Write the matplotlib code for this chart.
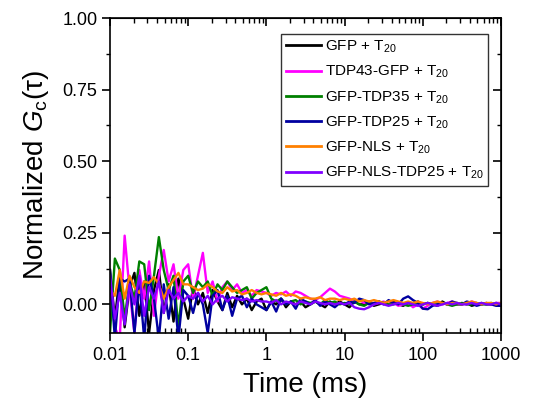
import numpy as np
import matplotlib
matplotlib.use("Agg")
import matplotlib.pyplot as plt
from matplotlib.ticker import LogLocator, NullFormatter, MultipleLocator

plt.rcParams['font.family'] = ['Liberation Sans', 'DejaVu Sans']
plt.rcParams['mathtext.fontset'] = 'custom'
plt.rcParams['mathtext.rm'] = 'Liberation Sans'
plt.rcParams['mathtext.it'] = 'Liberation Sans:italic'

# lag times (ms), 16 points per decade from 0.01 to 1000
tau = np.logspace(-2, 3, 81)

labels = [
    r"GFP + T$_{20}$",
    r"TDP43-GFP + T$_{20}$",
    r"GFP-TDP35 + T$_{20}$",
    r"GFP-TDP25 + T$_{20}$",
    r"GFP-NLS + T$_{20}$",
    r"GFP-NLS-TDP25 + T$_{20}$",
]
colors = ["#000000", "#ff00ff", "#008000", "#0000a0", "#ff8000", "#8000ff"]

gfp = [
    0.12, -0.05, 0.10, -0.08, 0.06, 0.11, -0.04, 0.08, -0.10, 0.05, 0.12, -0.03, 0.07, -0.06, 0.09, 0.02,
    -0.05, 0.06, 0.00, 0.04, -0.03, 0.05, 0.01, -0.02, 0.04, -0.01, 0.03, 0.00, 0.02, -0.02, 0.01, 0.02,
    -0.02, 0.01, 0.00, 0.02, -0.01, 0.01, 0.00, 0.01, -0.01, 0.00, 0.01, 0.00, -0.01, 0.01, 0.00, 0.01,
    0.00, -0.01, 0.01, 0.00, 0.00, 0.01, -0.005, 0.00, 0.005, 0.00, 0.01, 0.00, -0.005, 0.005, 0.00, 0.01,
    0.00, 0.005, 0.00, -0.005, 0.01, 0.00, 0.005, 0.00, 0.00, 0.005, -0.005, 0.00, 0.005, 0.00, 0.00, 0.005,
    0.00,
]
tdp43 = [
    0.05, -0.08, -0.12, 0.24, 0.05, -0.10, 0.12, 0.02, 0.15, -0.04, 0.10, 0.19, 0.08, 0.14, 0.02, 0.12,
    0.14, 0.02, 0.10, 0.18, 0.04, 0.08, 0.01, 0.06, 0.08, 0.05, 0.07, 0.04, 0.05, 0.03, 0.05, 0.045,
    0.04, 0.03, 0.04, 0.035, 0.045, 0.03, 0.045, 0.04, 0.03, 0.02, 0.015, 0.025, 0.04, 0.055, 0.045, 0.03,
    0.025, 0.02, 0.01, 0.015, 0.005, 0.01, 0.00, 0.005, 0.01, 0.00, 0.005, -0.005, 0.00, 0.005, -0.01, 0.00,
    -0.015, -0.005, 0.005, 0.01, 0.00, 0.005, 0.01, 0.00, 0.005, 0.00, 0.01, 0.005, 0.00, 0.005, 0.00, 0.005,
    0.005,
]
tdp35 = [
    -0.10, 0.16, 0.12, -0.05, 0.08, 0.02, 0.15, 0.14, -0.02, 0.10, 0.235, 0.12, 0.05, 0.10, -0.08, 0.08,
    0.10, 0.04, 0.08, 0.06, 0.08, 0.03, 0.07, 0.05, 0.08, 0.06, 0.04, 0.05, 0.06, 0.02, 0.04, 0.05,
    0.06, 0.02, 0.01, 0.02, 0.00, 0.01, 0.015, 0.00, 0.01, 0.005, 0.01, 0.00, 0.015, 0.005, 0.01, 0.00,
    0.005, 0.00, 0.01, 0.00, -0.005, 0.005, 0.00, 0.01, 0.005, 0.00, 0.00, 0.005, 0.00, -0.005, 0.00, 0.005,
    0.00, 0.005, 0.00, 0.00, 0.005, 0.00, -0.005, 0.00, 0.005, 0.00, 0.00, 0.005, 0.00, 0.00, 0.005, 0.00,
    0.00,
]
tdp25 = [
    0.12, -0.12, 0.09, 0.08, 0.09, -0.10, 0.08, -0.12, 0.10, 0.02, -0.12, 0.07, -0.05, 0.06, -0.12, 0.05,
    0.03, -0.03, 0.04, 0.00, -0.10, 0.03, 0.05, -0.02, 0.03, -0.04, 0.02, 0.03, -0.01, 0.02, 0.00, -0.01,
    -0.02, 0.01, -0.025, 0.02, 0.00, 0.01, -0.015, 0.02, 0.01, 0.00, 0.015, -0.005, 0.01, 0.00, -0.01, 0.005,
    0.00, 0.01, 0.005, 0.02, 0.015, 0.00, 0.005, 0.01, 0.00, 0.015, 0.005, 0.00, 0.02, 0.028, 0.015, 0.005,
    -0.015, -0.017, -0.005, 0.00, 0.005, 0.00, 0.01, 0.005, 0.00, 0.01, 0.005, -0.005, 0.00, 0.005, 0.00, -0.005,
    -0.005,
]
nls = [
    0.05, 0.03, 0.12, 0.02, 0.10, 0.06, 0.04, 0.08, 0.075, 0.095, 0.07, 0.02, 0.06, 0.085, 0.11, 0.07,
    0.07, 0.06, 0.05, 0.055, 0.07, 0.06, 0.045, 0.04, 0.06, 0.045, 0.05, 0.035, 0.04, 0.05, 0.04, 0.035,
    0.04, 0.035, 0.03, 0.04, 0.03, 0.035, 0.03, 0.02, 0.025, 0.02, 0.02, 0.025, 0.015, 0.02, 0.02, 0.015,
    0.02, 0.015, 0.02, 0.01, 0.015, 0.01, 0.015, 0.01, 0.005, 0.01, 0.015, 0.01, 0.005, 0.01, 0.005, 0.01,
    0.005, 0.00, 0.005, 0.01, 0.005, 0.00, 0.005, 0.005, 0.00, 0.005, 0.01, 0.005, 0.00, 0.005, 0.005, 0.00,
    0.005,
]
nls_tdp25 = [
    0.10, -0.05, 0.04, -0.07, 0.07, 0.00, 0.10, -0.04, 0.06, 0.02, 0.08, -0.03, 0.05, 0.02, 0.04, 0.01,
    0.03, 0.02, 0.04, 0.01, 0.03, 0.00, 0.02, 0.03, 0.01, 0.025, 0.02, 0.015, 0.02, 0.01, 0.015, 0.01,
    0.01, 0.005, 0.015, 0.00, 0.01, 0.005, 0.00, 0.01, 0.005, 0.00, 0.01, 0.005, 0.00, 0.005, 0.00, 0.005,
    0.00, 0.005, -0.01, -0.015, -0.017, -0.01, 0.00, 0.005, 0.00, -0.005, 0.00, 0.005, 0.00, 0.005, 0.00, -0.005,
    0.00, 0.005, 0.00, -0.005, 0.00, 0.005, 0.00, 0.005, 0.00, 0.00, 0.005, 0.00, 0.005, 0.00, 0.00, 0.005,
    0.00,
]
series = [gfp, tdp43, tdp35, tdp25, nls, nls_tdp25]

fig = plt.figure(figsize=(5.36, 4.12), dpi=100)
ax = fig.add_axes([0.2052, 0.1917, 0.7295, 0.7646])

for y, c, lab in zip(series, colors, labels):
    ax.plot(tau, y, color=c, lw=1.7, label=lab)

ax.set_xscale("log")
ax.set_xlim(0.01, 1000)
ax.set_ylim(-0.1, 1.0)
ax.set_xticks([0.01, 0.1, 1, 10, 100, 1000])
ax.set_xticklabels(["0.01", "0.1", "1", "10", "100", "1000"])
ax.xaxis.set_minor_locator(LogLocator(base=10, subs=np.arange(2, 10)))
ax.xaxis.set_minor_formatter(NullFormatter())
ax.set_yticks([0, 0.25, 0.5, 0.75, 1.0])
ax.set_yticklabels(["0.00", "0.25", "0.50", "0.75", "1.00"])
ax.yaxis.set_minor_locator(MultipleLocator(0.125))

for s in ax.spines.values():
    s.set_linewidth(1.2)
ax.tick_params(axis="x", which="major", direction="out", length=6, width=1.2, labelsize=13, pad=4)
ax.tick_params(axis="x", which="minor", direction="in", length=3.5, width=1.0)
ax.tick_params(axis="y", which="major", direction="out", length=6, width=1.2, labelsize=13, pad=3)
ax.tick_params(axis="y", which="minor", direction="out", length=3, width=1.0)

# mirrored axes with inward ticks
top = ax.secondary_xaxis("top")
top.set_xticks([0.01, 0.1, 1, 10, 100, 1000])
top.xaxis.set_minor_locator(LogLocator(base=10, subs=np.arange(2, 10)))
top.tick_params(which="major", direction="in", length=6, width=1.2, labeltop=False)
top.tick_params(which="minor", direction="in", length=3.5, width=1.0)
top.xaxis.set_minor_formatter(NullFormatter())
right = ax.secondary_yaxis("right")
right.set_yticks([0, 0.25, 0.5, 0.75, 1.0])
right.yaxis.set_minor_locator(MultipleLocator(0.125))
right.tick_params(which="major", direction="in", length=6, width=1.2, labelright=False)
right.tick_params(which="minor", direction="in", length=3, width=1.0)

ax.set_xlabel("Time (ms)", fontsize=20, labelpad=6)
ax.set_ylabel(r"Normalized $\mathit{G}_\mathrm{c}(\mathrm{\tau})$", fontsize=20, labelpad=8)

leg = ax.legend(loc="upper right", bbox_to_anchor=(0.967, 0.949), fontsize=11,
                frameon=True, fancybox=False, edgecolor="black", handlelength=2.3,
                handletextpad=0.25, labelspacing=0.58, borderpad=0.3, borderaxespad=0)
leg.get_frame().set_linewidth(1.0)
for line in leg.get_lines():
    line.set_linewidth(2)

fig.savefig("out.png", dpi=100)
